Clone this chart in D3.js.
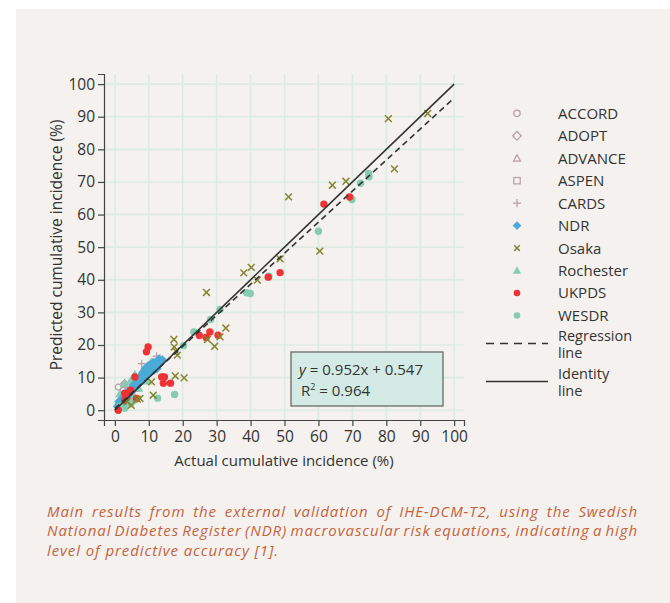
<!DOCTYPE html>
<html>
<head>
<meta charset="utf-8">
<style>
  body { margin: 0; background: #fff; }
  text { font-family: "Open Sans", "Noto Sans", sans-serif; }
</style>
</head>
<body>
<svg width="670" height="603"></svg>
<script src="https://d3js.org/d3.v7.min.js"></script>
<script>

// [actual %, predicted %] per study
var accord = [[2.5, 3.5], [4.2, 5.4], [5.6, 7.2], [1.0, 7.1], [2.5, 6.1]];
var adopt = [[2.9, 8.2], [4.0, 7.1], [3.4, 5.0], [6.8, 8.6]];
var advance = [[3.1, 4.1], [6.1, 6.6], [9.0, 10.4], [2.2, 3.0]];
var aspen = [[4.0, 6.1], [7.2, 9.6], [10.2, 12.6], [5.0, 5.2]];
var cards = [[13.3, 16.0], [6.0, 7.6], [7.9, 14.3], [12.3, 16.6]];
var ndr = [[0.8, 1.2], [1.4, 1.9], [2.0, 2.4], [2.6, 3.1], [3.2, 3.6], [3.8, 4.6], [4.4, 5.3],
  [5.0, 5.9], [5.6, 6.6], [6.2, 7.3], [6.8, 7.9], [7.4, 8.6], [8.0, 9.5], [8.4, 10.6],
  [8.8, 11.2], [9.2, 10.4], [9.6, 12.0], [10.0, 11.4], [10.4, 12.6], [10.8, 11.9],
  [11.2, 13.0], [11.6, 12.3], [12.0, 13.4], [12.4, 12.8], [12.8, 13.9], [13.2, 14.5],
  [13.6, 15.0], [9.0, 12.8], [10.2, 13.4], [8.6, 11.8], [11.8, 14.2], [7.8, 10.2],
  [1.2, 2.6], [2.4, 1.8], [3.6, 4.0], [4.8, 6.4], [6.4, 8.2], [9.4, 12.8], [10.6, 14.0],
  [11.4, 14.6], [12.6, 15.2], [13.0, 15.6], [9.8, 13.6], [8.2, 11.4], [7.4, 10.2],
  [6.6, 9.0], [5.4, 7.6], [4.2, 6.0], [3.0, 4.6], [1.8, 3.2], [10.8, 12.4], [12.2, 14.6],
  [11.0, 13.6], [14.0, 15.4], [8.6, 10.0]];
var osaka = [[80.6, 89.4], [92.2, 91.0], [82.4, 74.0], [68.1, 70.2], [64.1, 69.0],
  [51.2, 65.4], [60.4, 48.8], [48.7, 46.4], [40.2, 43.8], [38.0, 42.1], [42.0, 39.9],
  [27.0, 36.1], [32.7, 25.2], [31.0, 22.5], [27.3, 21.7], [29.4, 19.6], [17.4, 21.7],
  [17.5, 19.4], [18.0, 18.1], [18.4, 16.9], [17.8, 10.5], [20.4, 9.9], [10.8, 8.7],
  [11.3, 4.6], [7.4, 3.6], [6.6, 3.4], [4.8, 1.5], [3.6, 2.6]];
var rochester = [[10.7, 14.3], [5.9, 11.0], [2.8, 8.2], [4.6, 9.0], [8.2, 12.2],
  [12.0, 13.8], [7.0, 6.8], [3.8, 3.0], [9.6, 9.0], [1.5, 5.1], [5.2, 4.4], [6.4, 8.7],
  [10.8, 14.8]];
var ukpds = [[61.6, 63.2], [69.2, 65.4], [48.7, 42.2], [45.2, 40.8], [28.0, 24.0],
  [24.9, 22.9], [26.9, 22.3], [30.4, 23.0], [9.8, 19.4], [9.3, 17.9], [5.9, 10.2],
  [13.8, 10.2], [14.6, 10.2], [14.3, 8.3], [16.4, 8.3], [4.7, 6.1], [2.9, 5.2],
  [4.4, 5.6], [2.9, 3.1], [1.0, 0.0], [6.4, 3.6], [3.3, 4.1]];
var wesdr = [[74.8, 72.6], [74.9, 71.6], [72.4, 69.6], [69.9, 64.6], [60.0, 54.9],
  [45.4, 41.1], [38.8, 36.0], [39.9, 35.8], [31.0, 30.9], [28.2, 27.8], [23.3, 24.0],
  [20.2, 19.8], [17.6, 4.8], [12.6, 3.7], [4.7, 2.0], [2.9, 0.6], [5.6, 3.0], [1.5, 1.2]];

var regSlope = 0.952, regIntercept = 0.547, r2 = 0.964;
var ticks = [0, 10, 20, 30, 40, 50, 60, 70, 80, 90, 100];
var studies = ["ACCORD", "ADOPT", "ADVANCE", "ASPEN", "CARDS", "NDR", "Osaka", "Rochester", "UKPDS", "WESDR"];
var captionLines = [
  "Main results from the external validation of IHE-DCM-T2, using the Swedish",
  "National Diabetes Register (NDR) macrovascular risk equations, indicating a high",
  "level of predictive accuracy [1]."
];

var svg = d3.select("svg");

svg.append("rect")
    .attr("x", 16).attr("y", 9)
    .attr("width", 654).attr("height", 594)
    .attr("fill", "#f4f1ee");

var x = d3.scaleLinear().domain([-3.2, 102.9]).range([104, 464]);
var y = d3.scaleLinear().domain([-3, 103.1]).range([420, 74]);

var pink = "#b89ba9", blue = "#4aaad8", olive = "#858430", red = "#ee3236", teal = "#86ccb2";

// grid
var grid = svg.append("g").attr("stroke", "#dcece3").attr("stroke-width", 1.6);
grid.selectAll(".gx").data(ticks).enter().append("line")
    .attr("x1", d => x(d)).attr("x2", d => x(d))
    .attr("y1", y.range()[1]).attr("y2", y.range()[0]);
grid.selectAll(".gy").data(ticks).enter().append("line")
    .attr("y1", d => y(d)).attr("y2", d => y(d))
    .attr("x1", x.range()[0]).attr("x2", x.range()[1]);

// axes
var xAxis = svg.append("g")
    .attr("transform", "translate(0," + y.range()[0] + ")")
    .call(d3.axisBottom(x).tickValues(ticks).tickSize(6).tickPadding(3));
var yAxis = svg.append("g")
    .attr("transform", "translate(" + x.range()[0] + ",0)")
    .call(d3.axisLeft(y).tickValues(ticks).tickSize(6).tickPadding(3));

[xAxis, yAxis].forEach(function(a) {
  a.attr("font-size", null).attr("font-family", null);
  a.select(".domain").attr("stroke", "#444").attr("stroke-width", 1.2);
  a.selectAll(".tick line").attr("stroke", "#444").attr("stroke-width", 1.2);
  a.selectAll(".tick text").attr("fill", "#333").style("font-size", "15.5px");
});
xAxis.selectAll(".tick text").attr("dy", "0.85em");

svg.append("text")
    .attr("x", 284).attr("y", 466)
    .attr("text-anchor", "middle")
    .attr("fill", "#333").style("font-size", "15px")
    .text("Actual cumulative incidence (%)");

svg.append("text")
    .attr("transform", "translate(62,245) rotate(-90)")
    .attr("text-anchor", "middle")
    .attr("fill", "#333").style("font-size", "15.5px")
    .text("Predicted cumulative incidence (%)");

// symbols
function drawSymbol(sel, kind, size) {
  var s = size;
  if (kind === "circle") sel.append("circle").attr("r", s).attr("fill", "none").attr("stroke", pink).attr("stroke-width", 1.2);
  if (kind === "diamond") sel.append("path").attr("d", "M0," + (-s * 1.3) + "L" + (s * 1.3) + ",0L0," + (s * 1.3) + "L" + (-s * 1.3) + ",0Z").attr("fill", "none").attr("stroke", pink).attr("stroke-width", 1.2);
  if (kind === "triangle") sel.append("path").attr("d", "M0," + (-s * 1.1) + "L" + (s * 1.1) + "," + (s * 0.9) + "L" + (-s * 1.1) + "," + (s * 0.9) + "Z").attr("fill", "none").attr("stroke", pink).attr("stroke-width", 1.2);
  if (kind === "square") sel.append("rect").attr("x", -s).attr("y", -s).attr("width", 2 * s).attr("height", 2 * s).attr("fill", "none").attr("stroke", pink).attr("stroke-width", 1.2);
  if (kind === "plus") sel.append("path").attr("d", "M" + (-s * 1.2) + ",0H" + (s * 1.2) + "M0," + (-s * 1.2) + "V" + (s * 1.2)).attr("stroke", pink).attr("stroke-width", 1.2);
  if (kind === "ndr") sel.append("path").attr("d", "M0," + (-s * 1.4) + "L" + (s * 1.4) + ",0L0," + (s * 1.4) + "L" + (-s * 1.4) + ",0Z").attr("fill", blue);
  if (kind === "x") sel.append("path").attr("d", "M" + (-s) + "," + (-s) + "L" + s + "," + s + "M" + (-s) + "," + s + "L" + s + "," + (-s)).attr("stroke", olive).attr("stroke-width", 1.5);
  if (kind === "tri") sel.append("path").attr("d", "M0," + (-s * 1.3) + "L" + (s * 1.3) + "," + (s * 1.0) + "L" + (-s * 1.3) + "," + (s * 1.0) + "Z").attr("fill", teal);
  if (kind === "red") sel.append("circle").attr("r", s).attr("fill", red);
  if (kind === "teal") sel.append("circle").attr("r", s).attr("fill", teal);
}

var series = [
  {data: accord, kind: "circle", size: 3},
  {data: adopt, kind: "diamond", size: 3},
  {data: advance, kind: "triangle", size: 3},
  {data: aspen, kind: "square", size: 3},
  {data: cards, kind: "plus", size: 3.2},
  {data: rochester, kind: "tri", size: 3.6},
  {data: ndr, kind: "ndr", size: 3.4},
  {data: wesdr, kind: "teal", size: 3.7},
  {data: ukpds, kind: "red", size: 3.7},
  {data: osaka, kind: "x", size: 3.4}
];

var pts = svg.append("g");
series.forEach(function(s) {
  pts.append("g").selectAll("g").data(s.data).enter().append("g")
      .attr("transform", d => "translate(" + x(d[0]) + "," + y(d[1]) + ")")
      .each(function() { drawSymbol(d3.select(this), s.kind, s.size); });
});

// regression and identity lines
var line = d3.line().x(d => x(d[0])).y(d => y(d[1]));
svg.append("path")
    .datum([[0, regIntercept], [100, regSlope * 100 + regIntercept]])
    .attr("fill", "none").attr("stroke", "#333").attr("stroke-width", 1.5)
    .attr("stroke-dasharray", "6,4")
    .attr("d", line);
svg.append("path")
    .datum([[0, 0], [100, 100]])
    .attr("fill", "none").attr("stroke", "#333").attr("stroke-width", 1.6)
    .attr("d", line);

// equation box
svg.append("rect")
    .attr("x", 291).attr("y", 352).attr("width", 152).attr("height", 54)
    .attr("fill", "#d3ebe4").attr("stroke", "#6a6a6a").attr("stroke-width", 1.3);
var eq = svg.append("text").attr("x", 299).attr("y", 375).attr("fill", "#333").style("font-size", "15px");
eq.append("tspan").style("font-style", "italic").text("y");
eq.append("tspan").text(" = " + regSlope + "x + " + regIntercept);
var r2t = svg.append("text").attr("x", 301).attr("y", 396).attr("fill", "#333").style("font-size", "15px");
r2t.append("tspan").text("R");
r2t.append("tspan").attr("dy", -6).style("font-size", "9px").text("2");
r2t.append("tspan").attr("dy", 6).text(" = " + r2);

// legend
var leg = svg.append("g");
var kinds = ["circle", "diamond", "triangle", "square", "plus", "ndr", "x", "tri", "red", "teal"];
var lsize = [3.2, 3.3, 3.2, 3.2, 3.4, 3.1, 2.8, 3.2, 3.3, 3.3];
studies.forEach(function(name, i) {
  var yy = 113.3 + i * 22.46;
  var g = leg.append("g").attr("transform", "translate(517," + yy + ")");
  drawSymbol(g, kinds[i], lsize[i]);
  leg.append("text").attr("x", 558).attr("y", yy + 5.5)
      .attr("fill", "#333").style("font-size", "15px").text(name);
});
function twoLine(label, y0) {
  var t = leg.append("text").attr("y", y0).attr("fill", "#333").style("font-size", "14.5px");
  t.append("tspan").attr("x", 558).text(label);
  t.append("tspan").attr("x", 558).attr("dy", 16.5).text("line");
}
leg.append("line").attr("x1", 486).attr("x2", 548).attr("y1", 343.5).attr("y2", 343.5)
    .attr("stroke", "#333").attr("stroke-width", 1.4).attr("stroke-dasharray", "8,6");
twoLine("Regression", 341);
leg.append("line").attr("x1", 486).attr("x2", 548).attr("y1", 381.5).attr("y2", 381.5)
    .attr("stroke", "#333").attr("stroke-width", 1.6);
twoLine("Identity", 379);

// caption, justified by hand (last line left-aligned)
var capLeft = 47, capRight = 638, capFont = 15;
var cap = svg.append("g").attr("fill", "#c4643d")
    .style("font-size", capFont + "px").style("font-style", "italic").style("letter-spacing", "0.9px");
function wlen(w) {
  var t = cap.append("text").text(w);
  var l = t.node().getComputedTextLength();
  t.remove();
  return l;
}
var spaceW = wlen("a a") - wlen("aa");
captionLines.forEach(function(str, li) {
  var ws = str.split(" ");
  var yy = 517 + li * 19.3;
  var lens = ws.map(wlen);
  var total = d3.sum(lens);
  var gap = (li < captionLines.length - 1) ? (capRight - capLeft - total) / (ws.length - 1) : spaceW;
  var xx = capLeft;
  ws.forEach(function(w, i) {
    cap.append("text").attr("x", xx).attr("y", yy).text(w);
    xx += lens[i] + gap;
  });
});

</script>
</body>
</html>
